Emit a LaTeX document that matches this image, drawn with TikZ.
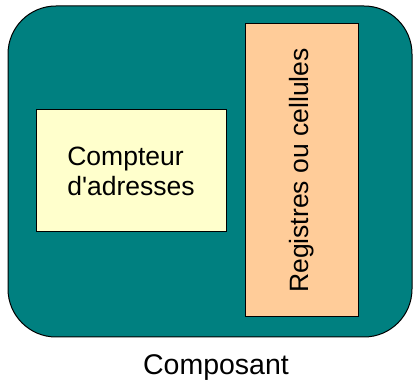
\documentclass[tikz,border=0pt]{standalone}
\usepackage{fontspec}
\setmainfont{Liberation Sans}
\usetikzlibrary{positioning}
\definecolor{composantFill}{RGB}{0,128,128}
\definecolor{compteurFill}{RGB}{255,255,204}
\definecolor{registreFill}{RGB}{255,204,153}

\begin{document}
\begin{tikzpicture}[x=1pt,y=1pt,every node/.style={font=\fontsize{26.5}{30}\selectfont}]
  \tikzset{bloc/.style={draw=black,line width=1pt,inner sep=0pt}}
  \useasboundingbox (0,0) rectangle (413,385);

  % draw the component
  \node[bloc,fill=composantFill,rounded corners=48pt,minimum width=404pt,minimum height=331pt] (composant) at (210,213.5) {};

  % draw the address counter and the registers
  \node[bloc,fill=compteurFill,minimum width=190pt,minimum height=122pt,align=left] (compteur) at (131,214) {Compteur\\d\textquotesingle adresses};
  \node[bloc,fill=registreFill,minimum width=293pt,minimum height=113pt,rotate=90] (registres) at (301.5,214.5) {Registres ou cellules};

  % label of the component
  \node[anchor=base,font=\fontsize{28.5}{34}\selectfont] (titre) at (216,10) {Composant};
\end{tikzpicture}
\end{document}
